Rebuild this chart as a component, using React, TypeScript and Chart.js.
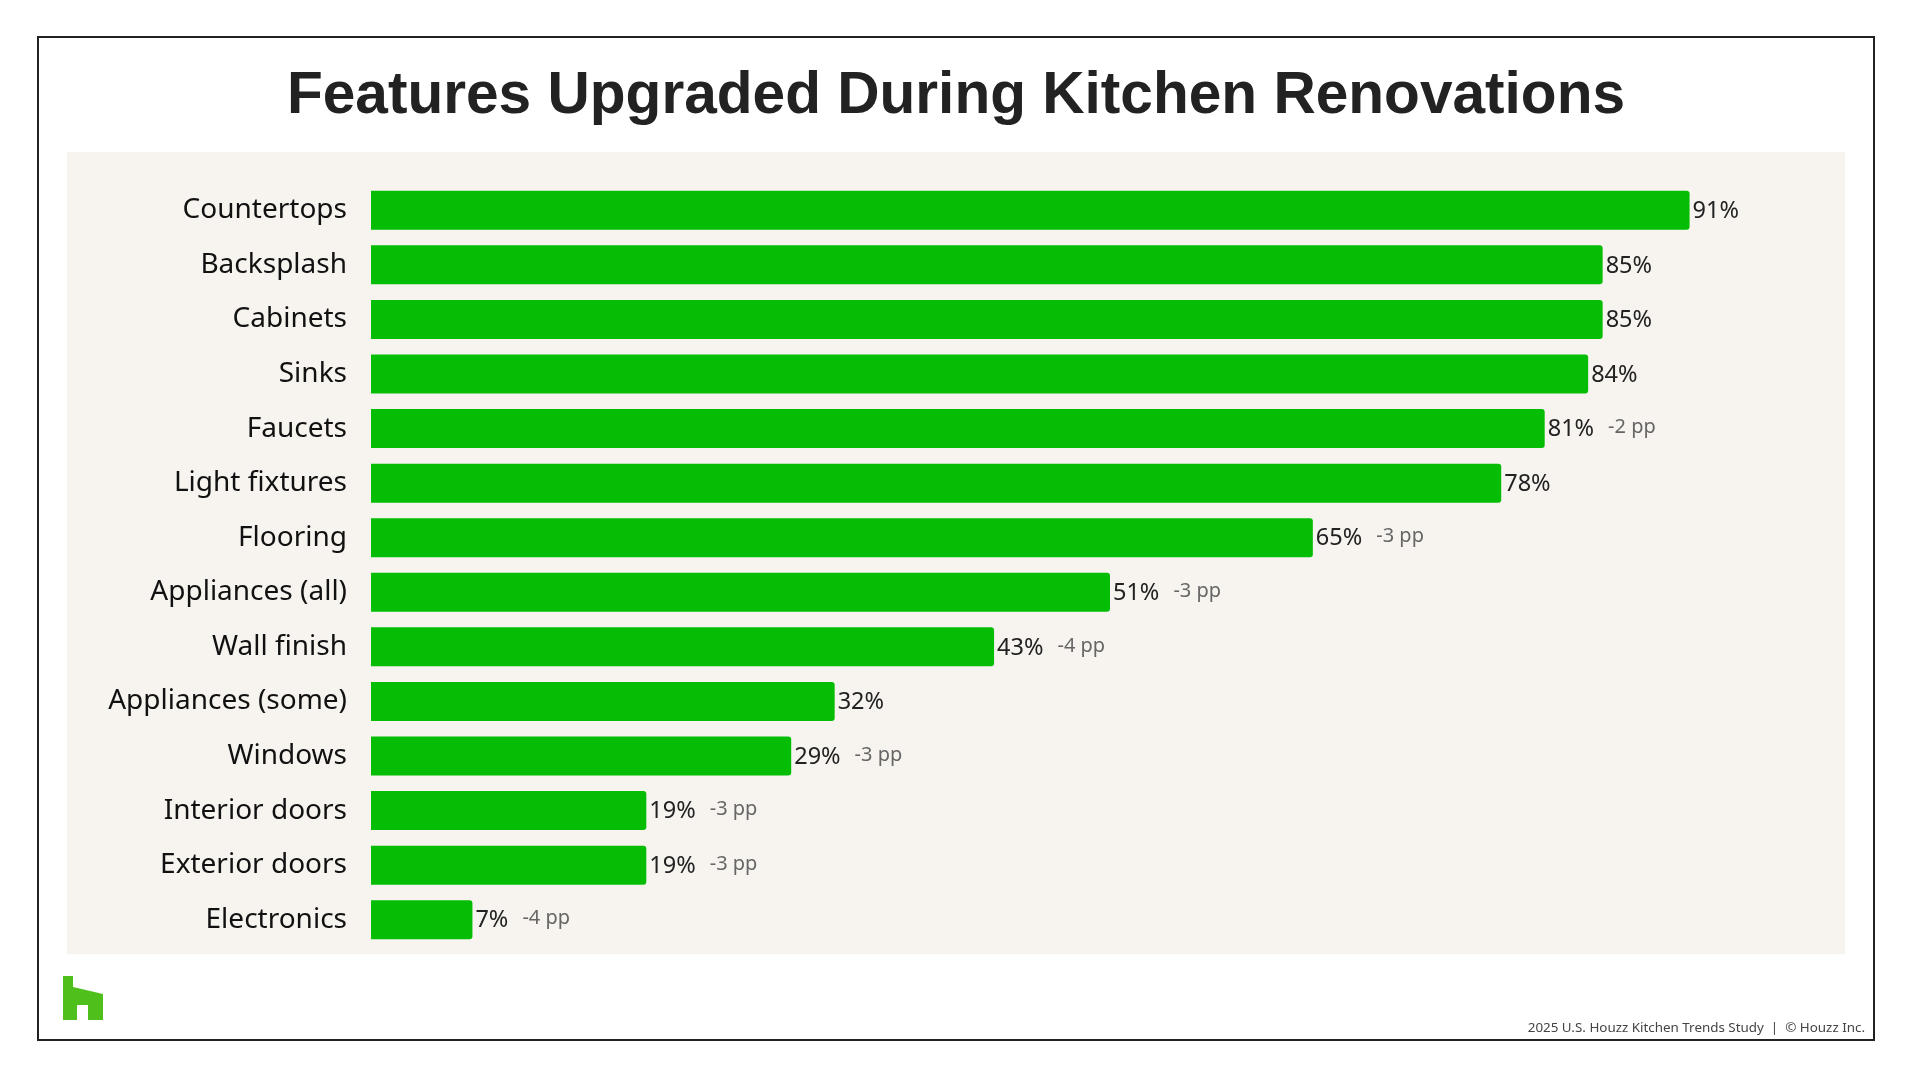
import React, { useEffect, useRef } from "react";
import { Chart, registerables } from "chart.js";

Chart.register(...registerables);

const TITLE = "Features Upgraded During Kitchen Renovations";
const FOOTER = "2025 U.S. Houzz Kitchen Trends Study  |  © Houzz Inc.";

const categories = [
  "Countertops",
  "Backsplash",
  "Cabinets",
  "Sinks",
  "Faucets",
  "Light fixtures",
  "Flooring",
  "Appliances (all)",
  "Wall finish",
  "Appliances (some)",
  "Windows",
  "Interior doors",
  "Exterior doors",
  "Electronics",
];

const values = [91, 85, 85, 84, 81, 78, 65, 51, 43, 32, 29, 19, 19, 7];

const changes: (number | null)[] = [null, null, null, null, -2, null, -3, -3, -4, null, -3, -3, -3, -4];

const BAR_COLOR = "#05BD05";
const PANEL_BG = "#F7F4F0";
const FONT = '"Noto Sans", "DejaVu Sans", sans-serif';

const valueLabelPlugin = {
  id: "valueLabels",
  afterDatasetsDraw(chart: any) {
    const ctx = chart.ctx;
    const meta = chart.getDatasetMeta(0);
    meta.data.forEach((bar: any, i: number) => {
      const v = values[i];
      const txt = `${v}%`;
      ctx.save();
      ctx.textAlign = "left";
      ctx.textBaseline = "middle";
      ctx.font = `23.5px ${FONT}`;
      ctx.fillStyle = "#222222";
      const x = bar.x + 3;
      ctx.fillText(txt, x, bar.y + 1);
      const w = ctx.measureText(txt).width;
      const c = changes[i];
      if (c !== null && c !== undefined) {
        ctx.font = `20px ${FONT}`;
        ctx.fillStyle = "#666666";
        ctx.fillText(`${c} pp`, x + w + 14, bar.y - 1);
      }
      ctx.restore();
    });
  },
};

function BarChart() {
  const canvasRef = useRef<HTMLCanvasElement | null>(null);

  useEffect(() => {
    const canvas = canvasRef.current;
    if (!canvas) return;
    const chart = new Chart(canvas, {
      type: "bar",
      data: {
        labels: categories,
        datasets: [
          {
            data: values,
            backgroundColor: BAR_COLOR,
            borderRadius: 3,
            borderSkipped: "start",
            barPercentage: 0.715,
            categoryPercentage: 1,
          },
        ],
      },
      options: {
        indexAxis: "y",
        responsive: false,
        animation: false,
        layout: { padding: { top: 31, bottom: 7, left: 0, right: 25 } },
        plugins: {
          legend: { display: false },
          tooltip: { enabled: false },
          title: { display: false },
        },
        scales: {
          x: {
            display: false,
            min: 0,
            max: 100,
          },
          y: {
            grid: { display: false, drawTicks: false },
            border: { display: false },
            ticks: {
              color: "#111111",
              padding: 24,
              font: { family: FONT, size: 28 },
            },
            afterFit(scale: any) {
              scale.width = 304;
              scale.paddingTop = 0;
              scale.paddingBottom = 0;
            },
          },
        },
      },
      plugins: [valueLabelPlugin],
    });
    return () => chart.destroy();
  }, []);

  return <canvas ref={canvasRef} width={1778} height={802} style={{ width: 1778, height: 802, display: "block" }} />;
}

export default function App() {
  return (
    <div
      style={{
        position: "absolute",
        left: 0,
        top: 0,
        width: 1912,
        height: 1078,
        background: "#ffffff",
        overflow: "hidden",
      }}
    >
      <div
        style={{
          position: "absolute",
          left: 37,
          top: 36,
          width: 1834,
          height: 1001,
          border: "2px solid #222222",
        }}
      />
      <div
        style={{
          position: "absolute",
          left: 0,
          top: 64,
          width: 1912,
          textAlign: "center",
          fontFamily: '"Liberation Sans", Arial, sans-serif',
          fontWeight: 700,
          fontSize: 58.6,
          lineHeight: "58px",
          color: "#222222",
        }}
      >
        {TITLE}
      </div>
      <div
        style={{
          position: "absolute",
          left: 67,
          top: 152,
          width: 1778,
          height: 802,
          background: PANEL_BG,
        }}
      >
        <BarChart />
      </div>
      <svg
        style={{ position: "absolute", left: 0, top: 0 }}
        width={1912}
        height={1078}
        viewBox="0 0 1912 1078"
      >
        <polygon
          points="63,976 73,976 73,987 103,994 103,1020 88,1020 88,1005 77,1005 77,1020 63,1020"
          fill="#4FBF1B"
        />
      </svg>
      <div
        style={{
          position: "absolute",
          right: 47,
          top: 1020,
          fontFamily: FONT,
          fontSize: 13.4,
          lineHeight: "14px",
          color: "#444444",
          whiteSpace: "pre",
        }}
      >
        {FOOTER}
      </div>
    </div>
  );
}
